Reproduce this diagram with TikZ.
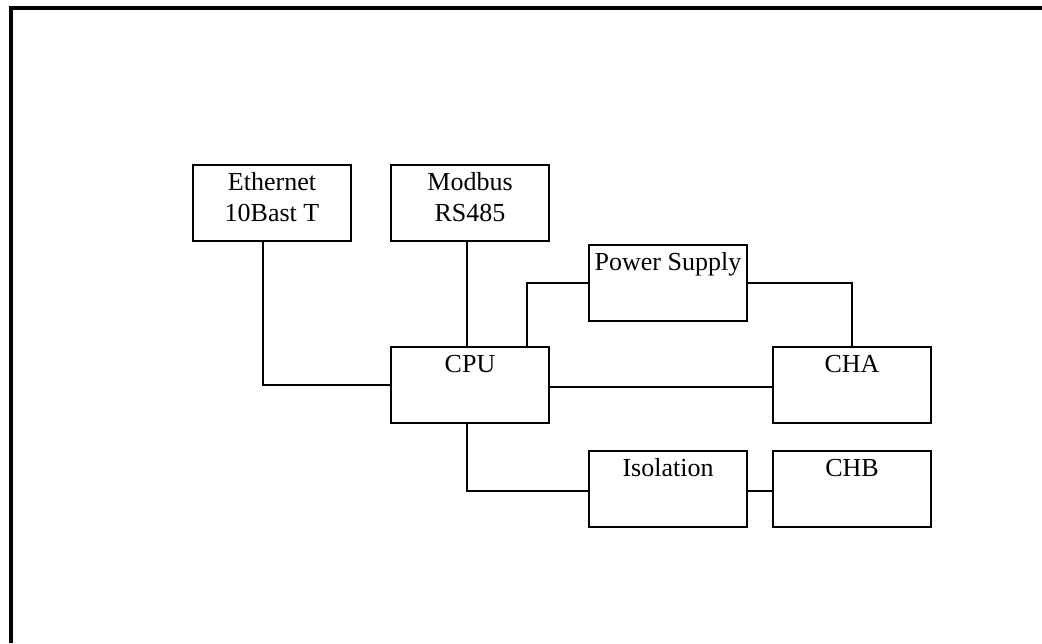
\documentclass[tikz,border=0pt]{standalone}
\usepackage{fontspec}
\setmainfont{Liberation Serif}
\begin{document}
\begin{tikzpicture}[x=1pt, y=-1pt,
    blk/.style={draw, line width=1.6pt, inner sep=0pt, minimum width=158pt,
      align=center, text height=26pt, text depth=50pt,
      font=\fontsize{26}{30.3}\selectfont},
    blkdue/.style={blk, text height=56.3pt, text depth=19.7pt},
    wire/.style={line width=1.6pt}]
    \useasboundingbox (0,0) rectangle (1042,643);

    % Cornice
    \draw[line width=4pt] (11,643) -- (11,8) -- (1042,8);

    % Blocchi
    \node[blkdue] (eth) at (272, 164) [anchor=north] {Ethernet\\10Bast T};
    \node[blkdue] (mod) at (470, 164) [anchor=north] {Modbus\\RS485};
    \node[blk] (ps)  at (668, 244) [anchor=north] {Power Supply};
    \node[blk] (cpu) at (470, 346) [anchor=north] {CPU};
    \node[blk] (cha) at (852, 346) [anchor=north] {CHA};
    \node[blk] (iso) at (668, 450) [anchor=north] {Isolation};
    \node[blk] (chb) at (852, 450) [anchor=north] {CHB};

    % Collegamenti
    \draw[wire] ([xshift=-9pt]eth.south) |- (cpu.west);
    \draw[wire] ([xshift=-3pt]mod.south) -- ([xshift=-3pt]cpu.north);
    \draw[wire] ([xshift=57pt]cpu.north) |- (ps.west);
    \draw[wire] (ps.east) -| (cha.north);
    \draw[wire] ([yshift=-2pt]cpu.east) -- ([yshift=-2pt]cha.west);
    \draw[wire] ([xshift=-3pt]cpu.south) |- ([yshift=-2pt]iso.west);
    \draw[wire] ([yshift=-2pt]iso.east) -- ([yshift=-2pt]chb.west);
\end{tikzpicture}
\end{document}
